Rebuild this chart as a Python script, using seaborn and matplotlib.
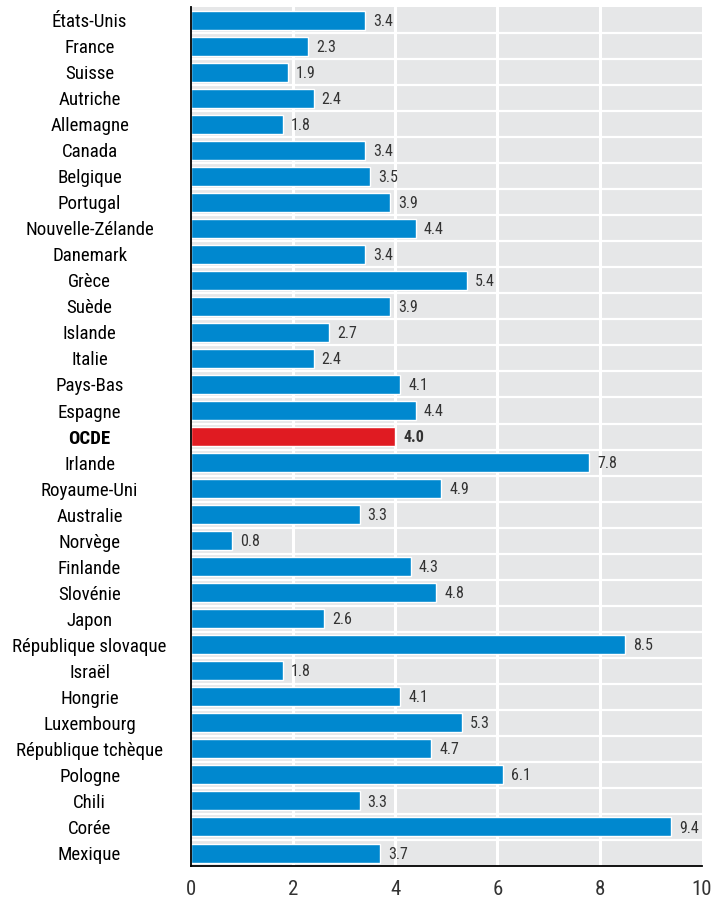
import numpy as np
import pandas as pd
import matplotlib
matplotlib.use('Agg')
import matplotlib.pyplot as plt
import seaborn as sns
from matplotlib.ticker import FixedLocator

countries = ['États-Unis', 'France', 'Suisse', 'Autriche', 'Allemagne', 'Canada',
             'Belgique', 'Portugal', 'Nouvelle-Zélande', 'Danemark', 'Grèce', 'Suède',
             'Islande', 'Italie', 'Pays-Bas', 'Espagne', 'OCDE', 'Irlande',
             'Royaume-Uni', 'Australie', 'Norvège', 'Finlande', 'Slovénie', 'Japon',
             'République slovaque', 'Israël', 'Hongrie', 'Luxembourg',
             'République tchèque', 'Pologne', 'Chili', 'Corée', 'Mexique']
values = [3.4, 2.3, 1.9, 2.4, 1.8, 3.4, 3.5, 3.9, 4.4, 3.4, 5.4, 3.9, 2.7, 2.4,
          4.1, 4.4, 4.0, 7.8, 4.9, 3.3, 0.8, 4.3, 4.8, 2.6, 8.5, 1.8, 4.1, 5.3,
          4.7, 6.1, 3.3, 9.4, 3.7]
xticks = [0, 2, 4, 6, 8, 10]

blue = '#0088cf'
red = '#e01b22'
grey = '#e6e7e8'
txt = '#333333'

sns.set_style('white')
plt.rcParams['font.family'] = ['Roboto Condensed', 'Archivo Narrow', 'DejaVu Sans']

df = pd.DataFrame({'pays': countries, 'val': values})
df['grp'] = np.where(df['pays'] == 'OCDE', 'oecd', 'pays')

fig = plt.figure(figsize=(7.11, 9.01), dpi=100)
ax = fig.add_axes([0.2686, 0.0388, 0.7184, 0.9534])
ax.set_facecolor(grey)

sns.barplot(data=df, x='val', y='pays', hue='grp', palette={'pays': blue, 'oecd': red},
            width=0.73, dodge=False, legend=False, ax=ax, zorder=3, saturation=1)

n = len(countries)
# white separators between rows and white vertical grid
for i in range(n - 1):
    ax.axhline(i + 0.5, color='white', lw=1.6, zorder=1)
for x in xticks[1:-1]:
    ax.axvline(x, color='white', lw=2.2, zorder=1)

for i, (c, v) in enumerate(zip(countries, values)):
    bold = c == 'OCDE'
    ax.text(v + 0.16, i + 0.04, f'{v:.1f}', va='center', ha='left', fontsize=11.5,
            color=txt, fontweight='bold' if bold else 'normal', zorder=4)

ax.set_xlim(0, 10)
ax.set_ylim(n - 0.5, -0.5)
ax.set_xlabel('')
ax.set_ylabel('')
ax.set_xticks(xticks)
ax.set_xticklabels([str(t) for t in xticks], fontsize=15, color=txt)
ax.tick_params(axis='x', direction='in', length=6, width=1, color='black', pad=10)

ax.yaxis.set_minor_locator(FixedLocator(np.arange(-0.5, n - 1, 1.0)))
ax.tick_params(axis='y', which='major', length=0, pad=73)
ax.tick_params(axis='y', which='minor', direction='in', length=7, width=1, color='black')
for lab in ax.get_yticklabels():
    lab.set_ha('center')
    lab.set_fontsize(13.6)
    lab.set_color('black')
    if lab.get_text() == 'OCDE':
        lab.set_fontweight('bold')

for s in ['top', 'right']:
    ax.spines[s].set_visible(False)
for s in ['left', 'bottom']:
    ax.spines[s].set_color('black')
    ax.spines[s].set_linewidth(1.3)
    ax.spines[s].set_zorder(5)

fig.savefig('out.png', dpi=100)
